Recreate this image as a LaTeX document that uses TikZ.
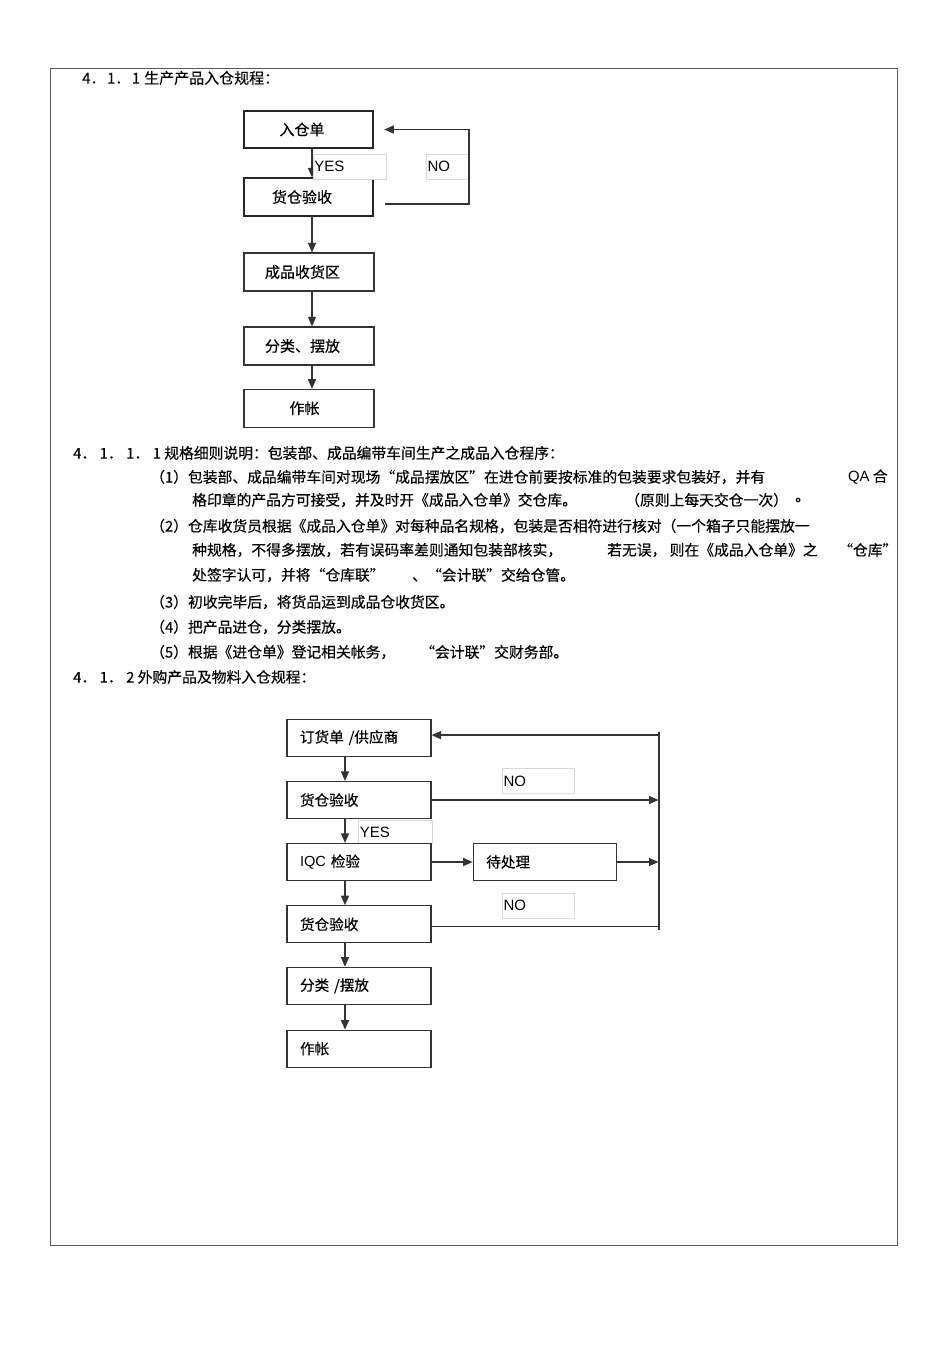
\documentclass[tikz,border=0pt]{standalone}
\usepackage{fontspec}
\setmainfont{Noto Sans CJK SC}[FakeBold=0.3]
\newfontfamily\lat{Liberation Sans}
\usetikzlibrary{arrows.meta,calc}
\newcommand{\lft}[1]{\hspace*{-13pt}#1}
\begin{document}
\begin{tikzpicture}[x=1pt,y=-1pt,
  every node/.style={inner sep=0pt, text=black, font=\fontsize{15}{17}\selectfont},
  para/.style={anchor=west, font=\fontsize{14.8}{17}\selectfont},
  boxa/.style={draw=black!85, line width=1.6pt, minimum width=129pt, minimum height=37.5pt},
  boxb/.style={draw=black!80, line width=1.2pt, minimum width=130pt, minimum height=38pt},
  boxc/.style={draw=black!80, line width=1.2pt, text width=118pt, align=left, inner xsep=13pt, minimum height=37pt, font=\fontsize{14.6}{17}\selectfont},
  lab/.style={draw=black!15, line width=0.6pt, fill=white, anchor=north west, align=left, inner xsep=1.5pt, font=\lat\fontsize{15}{17}\selectfont},
  conn/.style={draw=black!80, line width=1.4pt},
  arr/.style={conn, -{Triangle[length=9.5pt,width=8pt]}}
]
\useasboundingbox (0,0) rectangle (950,1345);
\fill[white] (0,0) rectangle (950,1345);
\draw[black!65, line width=1pt] (50,68) rectangle (897,1245);

% ---------- texts ----------
\node[anchor=west] (h1) at (82,78) {4．\kern1.5pt 1．\kern1.5pt 1\kern4pt 生产产品入仓规程：};
\node[para] (p0) at (73,453) {4．\kern3.5pt 1．\kern3.5pt 1．\kern3.5pt 1 规格细则说明：包装部、成品编带车间生产之成品入仓程序：};
\node[para] (p1a) at (150,477) {（1）包装部、成品编带车间对现场“成品摆放区”在进仓前要按标准的包装要求包装好，并有};
\node[para] (p1b) at (848,477) {{\lat QA} 合};
\node[para] (p2a) at (192,500) {格印章的产品方可接受，并及时开《成品入仓单》交仓库。};
\node[para] (p2b) at (625,500) {（原则上每天交仓一次）};
\node[para] (p2c) at (795,500) {。};
\node[para] (p3) at (150,526) {（2）仓库收货员根据《成品入仓单》对每种品名规格，包装是否相符进行核对（一个箱子只能摆放一};
\node[para] (p4a) at (192,550) {种规格，不得多摆放，若有误码率差则通知包装部核实，};
\node[para] (p4b) at (607,550) {若无误， 则在《成品入仓单》之};
\node[para] (p4c) at (838,550) {“仓库”};
\node[para] (p5a) at (192,575) {处签字认可，并将“仓库联”};
\node[para] (p5b) at (412,575) {、“会计联”交给仓管。};
\node[para] (p6) at (150,602) {（3）初收完毕后，将货品运到成品仓收货区。};
\node[para] (p7) at (150,627) {（4）把产品进仓，分类摆放。};
\node[para] (p8a) at (150,652) {（5）根据《进仓单》登记相关帐务，};
\node[para] (p8b) at (420,652) {“会计联”交财务部。};
\node[para] (h2) at (73,677) {4．\kern3.5pt 1．\kern3.5pt 2 外购产品及物料入仓规程：};

% ---------- chart 1 ----------
\node[boxa] (r1) at (308.5,129.5) {\lft{入仓单}};
\node[boxa] (r2) at (308.5,197) {\lft{货仓验收}};
\node[boxb] (r3) at (309,272) {\lft{成品收货区}};
\node[boxb] (r4) at (309,346) {\lft{分类、摆放}};
\node[boxb] (r5) at (309,408.3) {\hspace*{-9pt}作帐};
\coordinate (ax) at (312,0);
\draw[arr] (r1.south -| ax) -- (r2.north -| ax);
\draw[arr] (r2.south -| ax) -- (r3.north -| ax);
\draw[arr] (r3.south -| ax) -- (r4.north -| ax);
\draw[arr] (r4.south -| ax) -- (r5.north -| ax);
\node[lab, text width=70pt, minimum height=25pt] (yes1) at (312.5,154) {YES};
\node[lab, text width=40pt, minimum height=25pt] (no1) at (425.7,154) {NO};
\coordinate (nr) at (469,0);
\draw[arr] ($(r2.east)+(11,7)$) -| (nr |- r1.east) -- ($(r1.east)+(10.5,0)$);

% ---------- chart 2 ----------
\node[lab, text width=70.7pt, minimum height=23.3pt] (yes2) at (358,820) {YES};
\node[lab, text width=69.6pt, minimum height=25pt] (no2) at (501.7,768.3) {NO};
\node[lab, text width=69.6pt, minimum height=25.6pt] (no3) at (501.7,892.7) {NO};
\node[boxc] (s1) at (359,737.6) {订货单 /供应商};
\node[boxc] (s2) at (359,800) {货仓验收};
\node[boxc] (s3) at (359,862) {{\lat IQC} 检验};
\node[boxc, text width=117.4pt] (s4) at (545,862) {待处理};
\node[boxc] (s5) at (359,924.3) {货仓验收};
\node[boxc] (s6) at (359,985.8) {分类 /摆放};
\node[boxc] (s7) at (359,1048.7) {作帐};
\coordinate (bx) at (345,0);
\coordinate (rt) at (659,731.7);
\coordinate (rb) at (659,930);
\draw[conn] (rt) -- (rb);
\draw[arr] (s1.south -| bx) -- (s2.north -| bx);
\draw[arr] (s2.south -| bx) -- (s3.north -| bx);
\draw[arr] (s3.south -| bx) -- (s5.north -| bx);
\draw[arr] (s5.south -| bx) -- (s6.north -| bx);
\draw[arr] (s6.south -| bx) -- (s7.north -| bx);
\draw[arr] ($(s1.east)+(228,-2.5)$) -- ($(s1.east)+(0,-2.5)$);
\draw[arr] (s2.east) -- ($(s2.east -| rt)+(-0.5,0)$);
\draw[arr] (s3.east) -- (s4.west);
\draw[arr] (s4.east) -- ($(s4.east -| rt)+(-0.5,0)$);
\draw[conn] ($(s5.east)+(0,2.4)$) -- ($(s5.east -| rt)+(0,2.4)$);
\end{tikzpicture}
\end{document}
